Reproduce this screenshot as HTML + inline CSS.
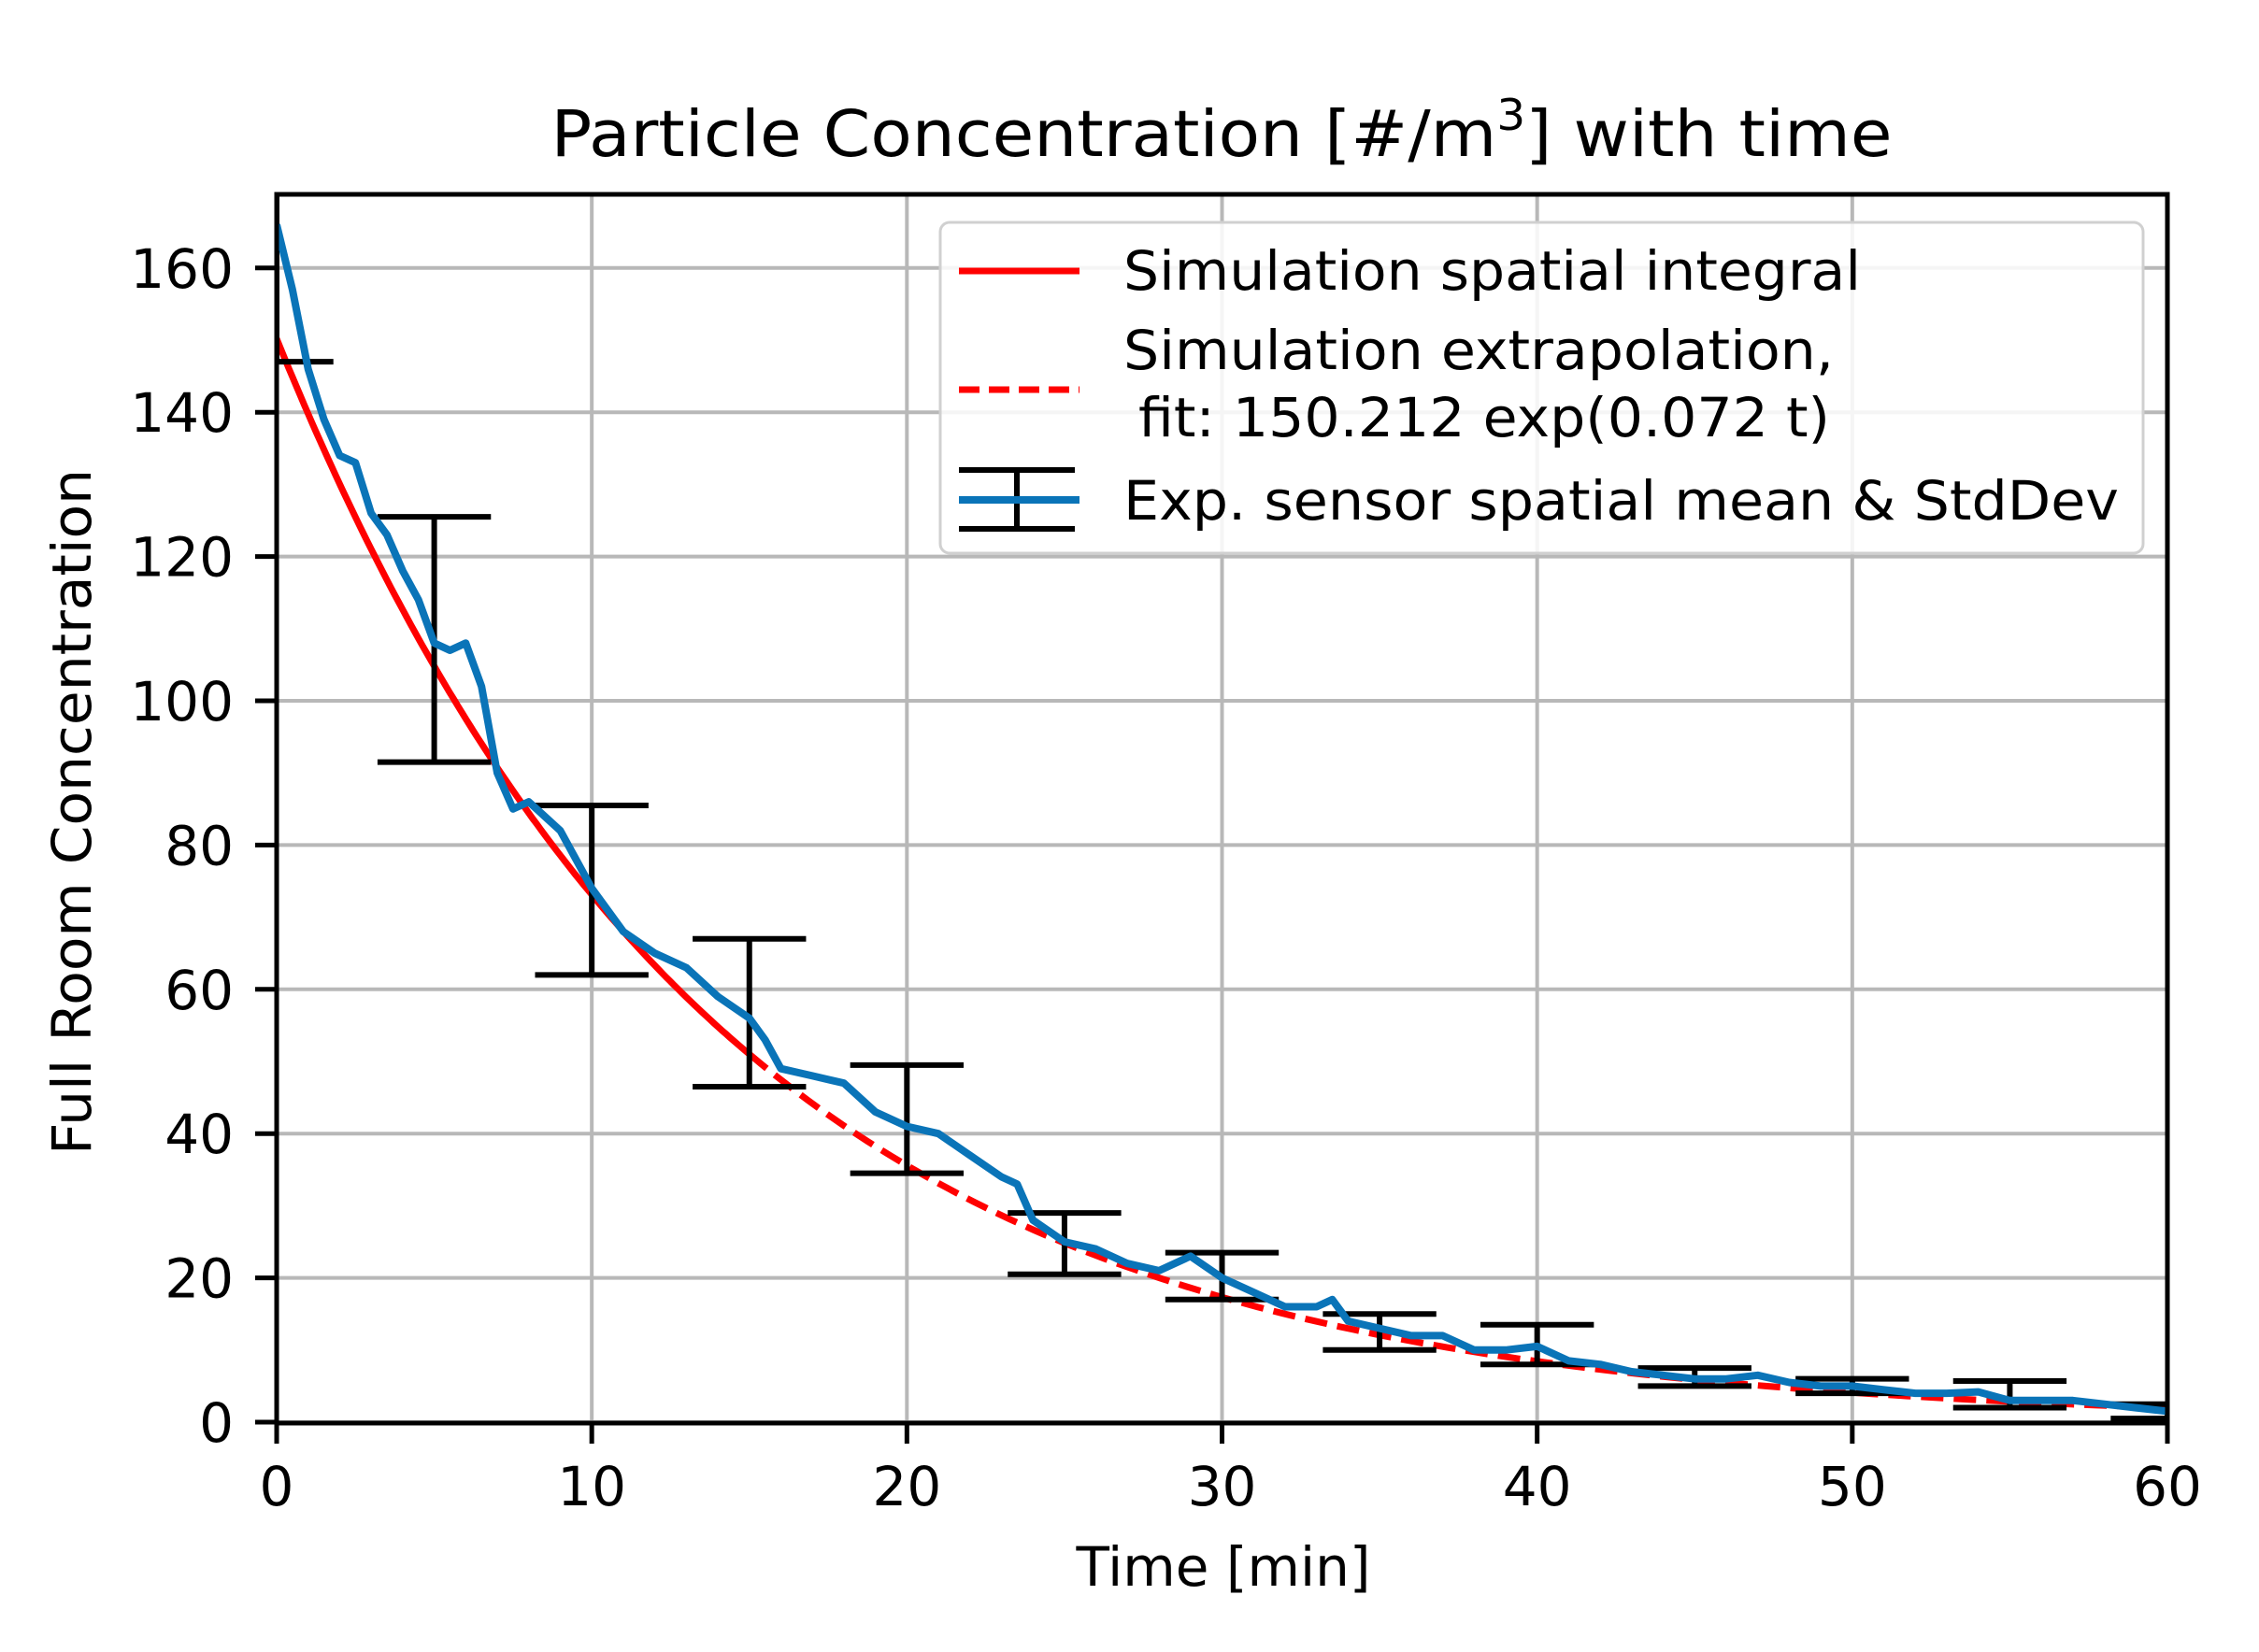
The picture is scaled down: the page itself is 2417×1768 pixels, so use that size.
<!DOCTYPE html>
<html><head><meta charset="utf-8"><style>
html,body{margin:0;padding:0;background:#fff;}
svg{display:block;font-family:"DejaVu Sans","Liberation Sans",sans-serif;}
</style></head><body>
<svg id="chart" width="2417" height="1768" viewBox="0 0 2417 1768" xmlns="http://www.w3.org/2000/svg">
<rect width="2417" height="1768" fill="#fff"/>
<g id="grid"></g>
<g id="marks"></g>
<rect x="296" y="208" width="2023" height="1315" fill="none" stroke="#000" stroke-width="5"/>
<g id="ticks"></g>
<text x="1307" y="167" font-size="69" text-anchor="middle" textLength="1435" lengthAdjust="spacingAndGlyphs">Particle Concentration [#/m<tspan font-size="46" dy="-28">3</tspan><tspan dy="28">] with time</tspan></text>
<text x="1309" y="1697" font-size="58" text-anchor="middle">Time [min]</text>
<text x="0" y="0" font-size="58" text-anchor="middle" textLength="734" lengthAdjust="spacingAndGlyphs" transform="translate(97,869) rotate(-90)">Full Room Concentration</text>
<g>
<rect x="1006" y="238" width="1287" height="354" rx="10" fill="#fff" fill-opacity="0.85" stroke="#d0d0d0" stroke-width="3"/>
<line x1="1026" y1="290" x2="1155" y2="290" stroke="#ff0000" stroke-width="7"/>
<text x="1202" y="310" font-size="58" textLength="789" lengthAdjust="spacingAndGlyphs">Simulation spatial integral</text>
<line x1="1026" y1="417" x2="1155" y2="417" stroke="#ff0000" stroke-width="7" stroke-dasharray="22,10"/>
<text x="1202" y="395" font-size="58" textLength="760" lengthAdjust="spacingAndGlyphs">Simulation extrapolation,</text>
<text x="1218" y="467" font-size="58" textLength="740" lengthAdjust="spacingAndGlyphs">fit: 150.212 exp(0.072 t)</text>
<line x1="1026" y1="503" x2="1150" y2="503" stroke="#000" stroke-width="6"/>
<line x1="1026" y1="566" x2="1150" y2="566" stroke="#000" stroke-width="6"/>
<line x1="1088" y1="503" x2="1088" y2="566" stroke="#000" stroke-width="6"/>
<line x1="1026" y1="535" x2="1155" y2="535" stroke="#0a74b8" stroke-width="8"/>
<text x="1202" y="556" font-size="58" textLength="1065" lengthAdjust="spacingAndGlyphs">Exp. sensor spatial mean &amp; StdDev</text>
</g>
</svg>
<script>
const xTicks = [0,10,20,30,40,50,60];
const yTicks = [0,20,40,60,80,100,120,140,160];
const sensorT = [0,0.5,1,1.5,2,2.5,3,3.5,4,4.5,5,5.5,6,6.5,7,7.5,8,8.5,9,10,11,12,13,14,15,15.5,16,17,18,19,20,21,22,23,23.5,24,25,26,27,28,29,30,31,32,33,33.5,34,35,36,37,38,39,40,41,42,43,44,45,46,47,48,49,50,51,52,53,54,55,56,57,58,59,60];
const sensorV = [166,157,146,139,134,133,126,123,118,114,108,107,108,102,90,85,86,84,82,74,68,65,63,59,56,53,49,48,47,43,41,40,37,34,33,28,25,24,22,21,23,20,18,16,16,17,14,13,12,12,10,10,10.5,8.5,8,7,6.5,6,6,6.5,5.5,5,5,4.5,4,4,4.2,3,3,3,2.5,2,1.5];
const errT = [0,5,10,15,20,25,30,35,40,45,50,55,60];
const errHi = [185,125.5,85.5,67,49.5,29,23.5,15,13.5,7.5,6,5.7,2.5];
const errLo = [147,91.5,62,46.5,34.5,20.5,17,10,8,5,4,2,0.5];
const fitParams = [150.212, 0.072];
const simRange = [0,15];
const extRange = [15,60];

const NS = 'http://www.w3.org/2000/svg';
const X0=296, X1=2319, Y0=1522, YPX=7.72;
const xs = t => X0 + (t/60)*(X1-X0);
const ys = v => Y0 - v*YPX;
function mk(tag, attrs, parent){const e=document.createElementNS(NS,tag);for(const k in attrs)e.setAttribute(k,attrs[k]);parent.appendChild(e);return e;}
const grid=document.getElementById('grid'), marks=document.getElementById('marks'), ticks=document.getElementById('ticks');

xTicks.forEach(t=>{
  const g=mk('line',{x1:xs(t),x2:xs(t),y1:208,y2:1522,stroke:'#b8b8b8','stroke-width':4},grid);
  
  
  const tk=mk('line',{x1:xs(t),x2:xs(t),y1:1522,y2:1545,stroke:'#000','stroke-width':5},ticks);
  
  
  const lb=mk('text',{x:xs(t),y:1611,'font-size':58,'text-anchor':'middle'},ticks);
  lb.textContent=t;
  
  
});
yTicks.forEach(v=>{
  const g=mk('line',{x1:296,x2:2319,y1:ys(v),y2:ys(v),stroke:'#b8b8b8','stroke-width':4},grid);
  
  
  const tk=mk('line',{x1:273,x2:296,y1:ys(v),y2:ys(v),stroke:'#000','stroke-width':5},ticks);
  
  
  const lb=mk('text',{x:250,y:ys(v)+21,'font-size':58,'text-anchor':'end'},ticks);
  lb.textContent=v;
  
  
});

const clip=mk('clipPath',{id:'plotclip'},document.getElementById('chart'));
mk('rect',{x:296,y:208,width:2023,height:1315},clip);
marks.setAttribute('clip-path','url(#plotclip)');

function fitPath(a,b){
  let d='';
  for(let i=0;i<=120;i++){const t=a+(b-a)*i/120;const v=fitParams[0]*Math.exp(-fitParams[1]*t);d+=(i?'L':'M')+xs(t).toFixed(1)+','+ys(v).toFixed(1);}
  return d;
}
const sim=mk('path',{d:fitPath(simRange[0],simRange[1]),fill:'none',stroke:'#ff0000','stroke-width':7},marks);


const ext=mk('path',{d:fitPath(extRange[0],extRange[1]),fill:'none',stroke:'#ff0000','stroke-width':7,'stroke-dasharray':'24,11'},marks);



errT.forEach((t,i)=>{
  const g=mk('g',{stroke:'#000','stroke-width':6},marks);
  
  
  mk('line',{x1:xs(t),x2:xs(t),y1:ys(errHi[i]),y2:ys(errLo[i])},g);
  mk('line',{x1:xs(t-1.8),x2:xs(t+1.8),y1:ys(errHi[i]),y2:ys(errHi[i])},g);
  mk('line',{x1:xs(t-1.8),x2:xs(t+1.8),y1:ys(errLo[i]),y2:ys(errLo[i])},g);
});

let d='';
sensorT.forEach((t,i)=>{d+=(i?'L':'M')+xs(t).toFixed(1)+','+ys(sensorV[i]).toFixed(1);});
const s=mk('path',{d:d,fill:'none',stroke:'#0a74b8','stroke-width':8,'stroke-linejoin':'round'},marks);


</script>
</body></html>
